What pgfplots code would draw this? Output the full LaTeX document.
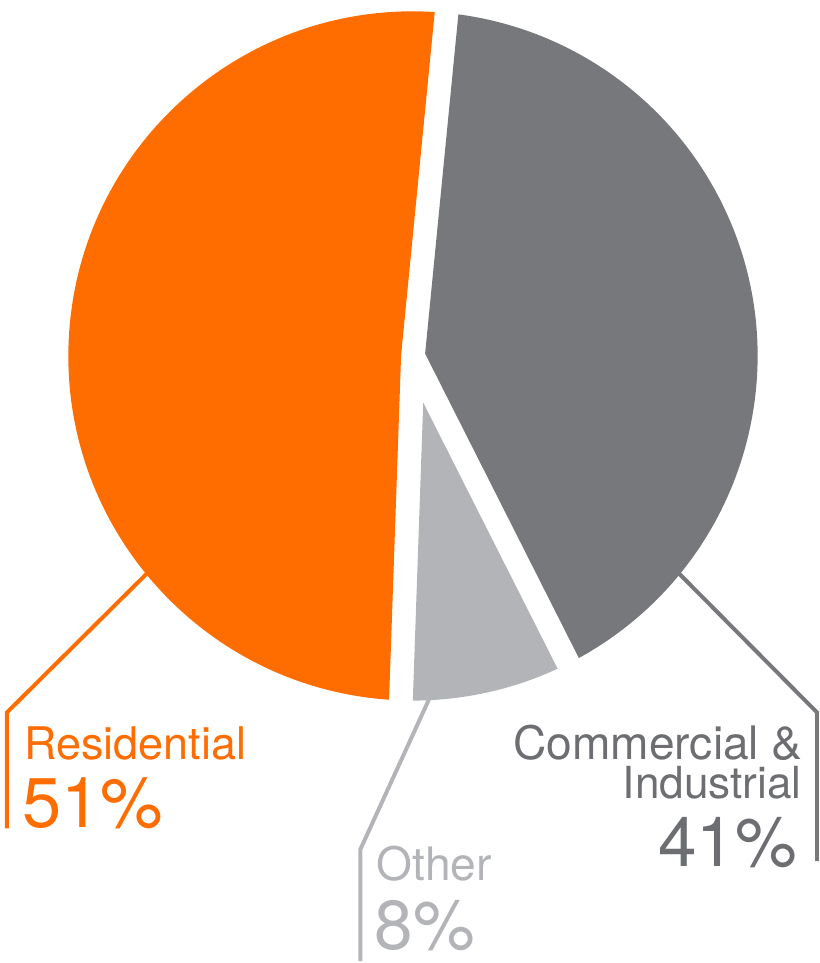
\documentclass[border=0pt]{standalone}
\usepackage{pgfplots}
\pgfplotsset{compat=1.18}
\usepackage{pgfplotstable}
\usepackage{fontspec}
\setmainfont{TeX Gyre Heros}
\definecolor{pieorange}{HTML}{FF6C00}
\definecolor{piegray}{HTML}{77787B}
\definecolor{pielight}{HTML}{B3B4B7}
\definecolor{txtgray}{HTML}{6D6E71}

\pgfplotstableread{
label value
Residential 51
Commercial 41
Other 8
}\piedata

% one slice of the pie, with a white gap of 2*\g pt along its edges
\newcommand\pieslice[3]{%
  \pgfmathsetmacro\pbis{(#1+#2)/2}%
  \pgfmathsetmacro\poff{\g/sin((#2-#1)/2)}%
  \pgfmathsetmacro\pdl{asin(\g/\R)}%
  \pgfmathsetmacro\pa{#1+\pdl}%
  \pgfmathsetmacro\pb{#2-\pdl}%
  \fill[#3] ([shift={(\pbis:\poff pt)}]C) -- ([shift={(\pa:\R pt)}]C)
     arc[start angle=\pa, end angle=\pb, radius=\R pt] -- cycle;}

\begin{document}
\begin{tikzpicture}
\pgfplotstablegetelem{0}{value}\of\piedata \let\vRes\pgfplotsretval
\pgfplotstablegetelem{1}{value}\of\piedata \let\vCom\pgfplotsretval
\pgfplotstablegetelem{2}{value}\of\piedata \let\vOth\pgfplotsretval
\begin{axis}[width=414pt, height=481.5pt, scale only axis,
  xmin=0, xmax=828, ymin=0, ymax=963, y dir=reverse,
  hide axis, clip=false]
\pgfplotsextra{%
  \def\R{174}\def\g{6}%
  \pgfmathsetmacro\bz{-92}%
  \pgfmathsetmacro\bo{\bz+3.6*\vOth}%
  \pgfmathsetmacro\bc{\bo+3.6*\vCom}%
  \pgfmathsetmacro\br{\bc+3.6*\vRes}%
  \coordinate (C) at (axis cs:417,352);
  \pieslice{\bz}{\bo}{pielight}
  \pieslice{\bo}{\bc}{piegray}
  \pieslice{\bc}{\br}{pieorange}
}
\path (axis cs:0,0) rectangle (axis cs:828,963);
% leader lines
\draw[pieorange, line width=2pt] (axis cs:152,568) -- (axis cs:7,712) -- (axis cs:7,829);
\draw[pielight, line width=2pt] (axis cs:434,697) -- (axis cs:364,850) -- (axis cs:364,963);
\draw[piegray, line width=2pt] (axis cs:686,572) -- (axis cs:825,712) -- (axis cs:825,862);
% labels
\node[anchor=base west, inner sep=0, text=pieorange, font=\fontsize{22.7}{26}\selectfont] at (axis cs:24,759) {Residential};
\node[anchor=base west, inner sep=0, text=pieorange, font=\fontsize{35.5}{40}\selectfont] at (axis cs:22,828) {\vRes\%};
\node[anchor=base west, inner sep=0, text=pielight, font=\fontsize{23.3}{26}\selectfont] at (axis cs:380,882) {Other};
\node[anchor=base west, inner sep=0, text=pielight, font=\fontsize{35}{40}\selectfont] at (axis cs:378,951) {\vOth\%};
\node[anchor=base east, inner sep=0, text=txtgray, font=\fontsize{23.3}{26}\selectfont] at (axis cs:811,759) {Commercial \&};
\node[anchor=base east, inner sep=0, text=txtgray, font=\fontsize{22.3}{26}\selectfont] at (axis cs:810,799) {Industrial};
\node[anchor=base east, inner sep=0, text=txtgray, font=\fontsize{35}{40}\selectfont] at (axis cs:805,868) {\vCom\%};
\end{axis}
\end{tikzpicture}
\end{document}
